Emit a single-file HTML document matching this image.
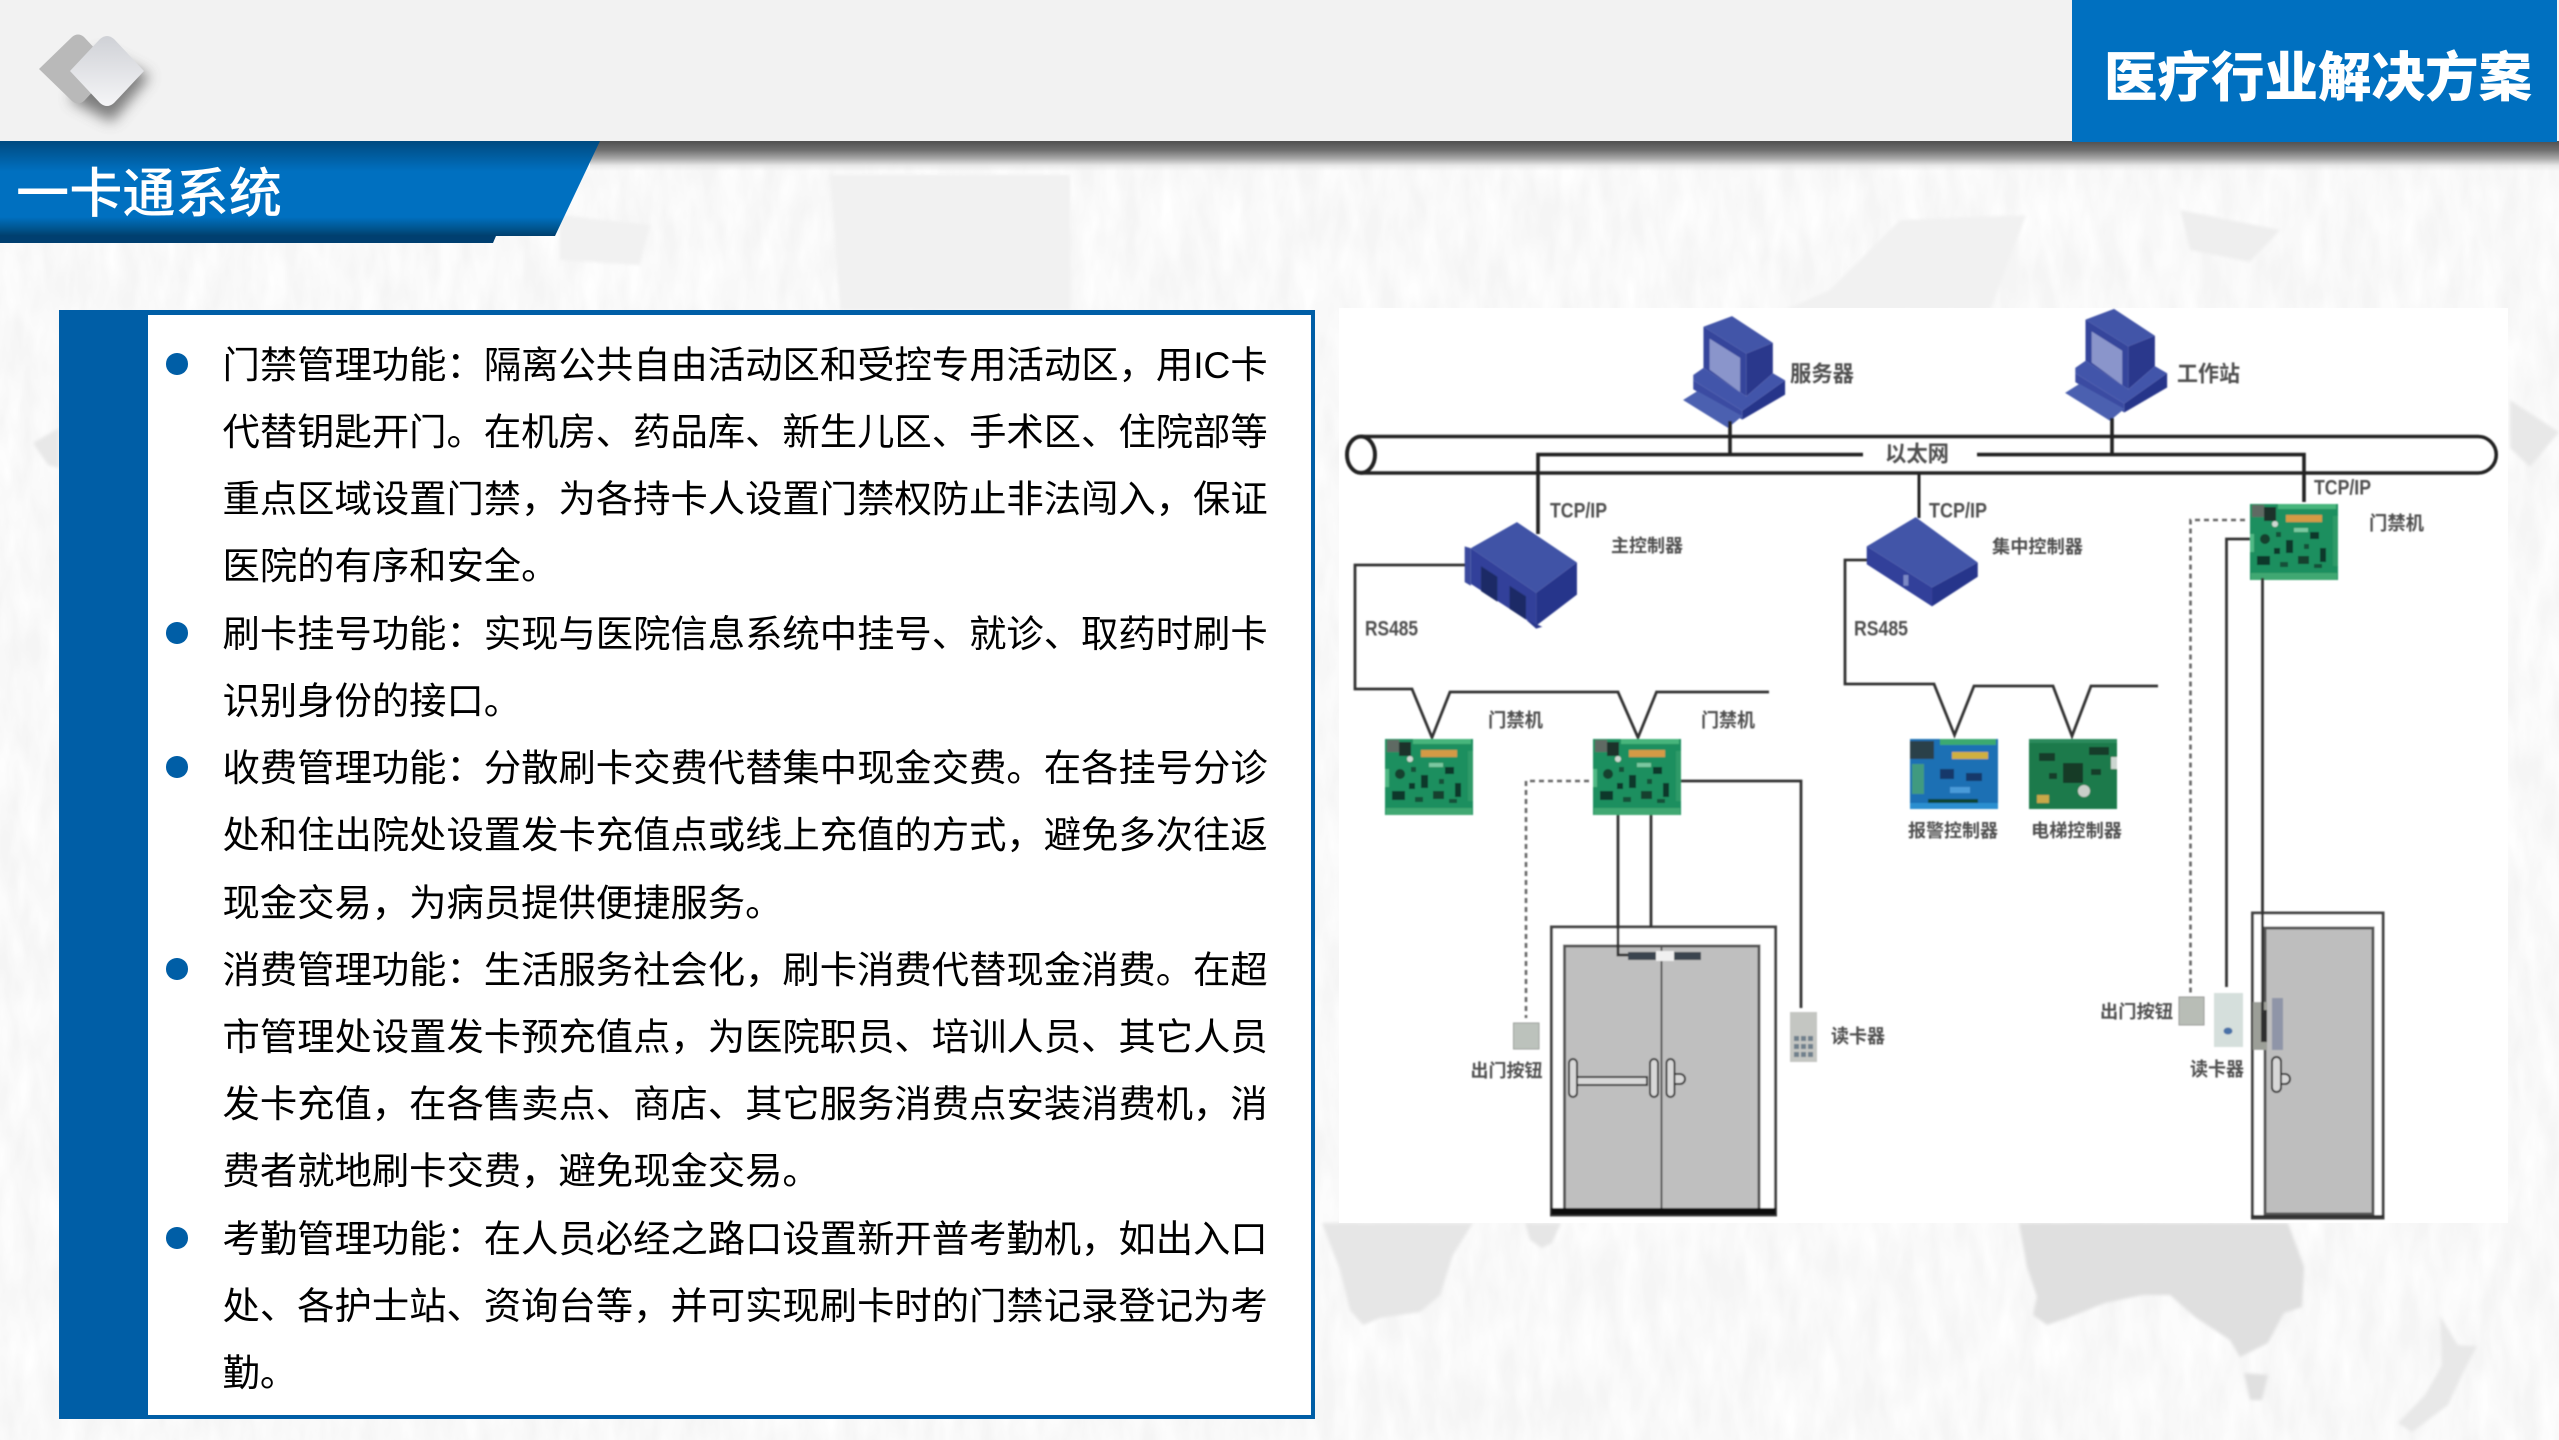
<!DOCTYPE html>
<html lang="zh-CN"><head><meta charset="utf-8"><title>一卡通系统</title>
<style>
html,body{margin:0;padding:0;background:#f5f5f5}
#p{position:relative;width:2559px;height:1440px;overflow:hidden;background:#f5f5f5;font-family:"Liberation Sans","Noto Sans CJK SC",sans-serif}
#p>*{position:absolute}
.l{left:222.5px;width:1045px;height:67px;line-height:67px;font-size:37.33px;color:#000;white-space:nowrap}
.j{text-align:justify;text-align-last:justify;white-space:normal;letter-spacing:-.2px}
.b{left:166px;width:21.5px;height:21.5px;border-radius:50%;background:#005ea6}
svg text{font-family:"Liberation Sans","Noto Sans CJK SC",sans-serif;fill:#505050;font-weight:700;dominant-baseline:central}
</style></head><body><div id="p">

<svg style="left:0;top:0" width="2559" height="1440" viewBox="0 0 2559 1440">
<defs>
<filter id="ns" x="0" y="0" width="100%" height="100%">
<feTurbulence type="fractalNoise" baseFrequency="0.05 0.016" numOctaves="3" seed="7"/>
<feColorMatrix type="matrix" values="0 0 0 0 1  0 0 0 0 1  0 0 0 0 1  1.6 0 0 0 -0.4"/>
</filter>
<filter id="sf" x="-5%" y="-5%" width="110%" height="110%"><feGaussianBlur stdDeviation="1.5"/></filter>
</defs>
<rect width="2559" height="1440" fill="#fff" filter="url(#ns)"/>
<g filter="url(#sf)">
<g fill="#f1f1f1">
<path d="M830 175H1070V310H840Z"/>
<path d="M1900 220L2026 215 1990 310H1784L1830 290Z"/>
<path d="M2180 210L2280 230 2250 262 2190 250Z" fill="#eeeeee"/>
<path d="M560 215L650 225 640 265 560 260Z"/>
</g>
<g fill="#e6e6e6">
<path d="M1322 1223H1473L1453 1255 1440 1295 1420 1312 1380 1318 1363 1325 1350 1310 1340 1270Z"/>
<path d="M1525 1223H1561L1552 1243 1542 1248 1530 1240Z"/>
<path d="M33 443L59 428V468L48 465Z" fill="#e8e8e8"/>
<path d="M2510 400L2559 432 2530 467 2510 448Z" fill="#e8e8e8"/>
<path d="M2440 1316L2458 1345 2477 1346 2462 1375 2448 1405 2412 1432 2398 1423 2425 1395 2442 1365Z" fill="#e8e8e8"/>
<path d="M2244 1373L2268 1375 2262 1400 2250 1400Z" fill="#e0e0e0"/>
</g>
<path d="M2019 1223H2288L2304 1267 2302 1307 2284 1313 2268 1343 2240 1357 2230 1340 2195 1317 2170 1295 2143 1295 2105 1303 2070 1317 2047 1325 2033 1315 2037 1297 2027 1267Z" fill="#dfdfdf"/>
</g>
</svg>

<div style="left:0;top:0;width:2559px;height:141px;background:#f2f2f2"></div>
<div style="left:590px;top:141px;width:1969px;height:30px;background:linear-gradient(#505050,#6f6f6f 30%,#a8a8a8 58%,rgba(225,225,225,.7) 82%,rgba(245,245,245,0))"></div>

<svg style="left:0;top:0" width="200" height="141" viewBox="0 0 200 141">
<defs>
<filter id="sh" x="-50%" y="-50%" width="200%" height="200%"><feGaussianBlur stdDeviation="7"/></filter>
<linearGradient id="dg" x1="0" y1="0" x2="0" y2="1"><stop offset="0" stop-color="#cfd1d6"/><stop offset="1" stop-color="#f5f5f7"/></linearGradient>
</defs>
<path d="M100 50L150 76 112 122 70 100Z" fill="#555" opacity=".75" filter="url(#sh)"/>
<path d="M39 69L72 37Q78 32 84 37L114 69 84 101Q78 106 72 101Z" fill="#b9b9b9"/>
<path d="M70 71L100 39Q107 33 114 39L144 71 114 103Q107 109 100 103Z" fill="url(#dg)"/>
</svg>

<div style="left:2072px;top:0;width:485px;height:142px;background:#0070c0"></div>
<div style="left:2104px;top:42px;font-size:53.5px;line-height:74px;font-weight:900;color:#fff;white-space:nowrap">医疗行业解决方案</div>

<svg style="left:0;top:141px" width="620" height="104" viewBox="0 0 620 104">
<defs><linearGradient id="tg" x1="0" y1="0" x2="0" y2="1">
<stop offset="0" stop-color="#004a80"/><stop offset=".22" stop-color="#0064ac"/><stop offset=".32" stop-color="#0070c0"/><stop offset=".8" stop-color="#0070c0"/><stop offset=".92" stop-color="#00558f"/><stop offset="1" stop-color="#003e6d"/></linearGradient></defs>
<path d="M0 95H496L493 102H0Z" fill="#003f70"/>
<path d="M0 0H600L555 95H0Z" fill="url(#tg)"/>
</svg>
<div style="left:16px;top:158px;font-size:53.2px;line-height:74px;font-weight:500;color:#fff;white-space:nowrap">一卡通系统</div>

<div style="left:59px;top:310px;width:1256px;height:1109px;background:#005ea6"></div>
<div style="left:148px;top:315px;width:1163px;height:1100px;background:#fff"></div>

<div class="b" style="top:353px"></div>
<div class="l j" style="top:331.5px">门禁管理功能：隔离公共自由活动区和受控专用活动区，用IC卡</div>
<div class="l j" style="top:398.5px">代替钥匙开门。在机房、药品库、新生儿区、手术区、住院部等</div>
<div class="l j" style="top:466px">重点区域设置门禁，为各持卡人设置门禁权防止非法闯入，保证</div>
<div class="l" style="top:533px">医院的有序和安全。</div>
<div class="b" style="top:622px"></div>
<div class="l j" style="top:600.5px">刷卡挂号功能：实现与医院信息系统中挂号、就诊、取药时刷卡</div>
<div class="l" style="top:667.5px">识别身份的接口。</div>
<div class="b" style="top:756px"></div>
<div class="l j" style="top:735px">收费管理功能：分散刷卡交费代替集中现金交费。在各挂号分诊</div>
<div class="l j" style="top:802px">处和住出院处设置发卡充值点或线上充值的方式，避免多次往返</div>
<div class="l" style="top:869.5px">现金交易，为病员提供便捷服务。</div>
<div class="b" style="top:958px"></div>
<div class="l j" style="top:936.5px">消费管理功能：生活服务社会化，刷卡消费代替现金消费。在超</div>
<div class="l j" style="top:1003.5px">市管理处设置发卡预充值点，为医院职员、培训人员、其它人员</div>
<div class="l j" style="top:1071px">发卡充值，在各售卖点、商店、其它服务消费点安装消费机，消</div>
<div class="l" style="top:1138px">费者就地刷卡交费，避免现金交易。</div>
<div class="b" style="top:1227px"></div>
<div class="l j" style="top:1205.5px">考勤管理功能：在人员必经之路口设置新开普考勤机，如出入口</div>
<div class="l j" style="top:1272.5px">处、各护士站、资询台等，并可实现刷卡时的门禁记录登记为考</div>
<div class="l" style="top:1340px">勤。</div>

<div style="left:1339px;top:308px;width:1169px;height:915px;background:#fff"></div>

<svg style="left:0;top:0" width="2559" height="1440" viewBox="0 0 2559 1440">
<defs>
<filter id="d" x="-2%" y="-2%" width="104%" height="104%"><feGaussianBlur stdDeviation="0.75"/></filter>
<g id="pc">
<path d="M915 75L985 45 1085 120 1020 150Z" fill="#4254a8"/>
<path d="M915 75L1020 150V270L915 190Z" fill="#34459b"/>
<path d="M930 108L1005 162V258L930 195Z" fill="#8a95cb"/>
<path d="M1020 150L1085 120V205L1020 270Z" fill="#2a398c"/>
<path d="M890 210L915 190 1020 270 1085 205 1115 225 1010 310 890 225Z" fill="#4355aa"/>
<path d="M890 225L1010 310V335L890 250Z" fill="#3a4ca2"/>
<path d="M1010 310L1115 225V265L1010 335Z" fill="#27358a"/>
<path d="M865 280L900 255 1010 325 975 358Z" fill="#4c60b0"/>
</g>
<g id="bd">
<rect x="0" y="0" width="88" height="76" fill="#1d8f5e"/>
<rect x="28" y="0" width="58" height="5" fill="#46b57c"/>
<rect x="1" y="69" width="86" height="7" fill="#3fa872"/>
<rect x="83" y="12" width="5" height="50" fill="#2f9a68"/>
<rect x="0" y="30" width="4" height="18" fill="#4fb884"/>
<rect x="2" y="1" width="12" height="12" fill="#5e6a64"/>
<rect x="14" y="3" width="12" height="14" fill="#1e3229"/>
<circle cx="25" cy="20" r="3" fill="#cfd8d2"/>
<rect x="36" y="11" width="36" height="7" fill="#d49a44"/>
<circle cx="15" cy="35" r="5" fill="#12402f"/>
<rect x="7" y="52" width="13" height="9" fill="#10382a"/>
<rect x="36" y="36" width="7" height="13" fill="#10382a"/>
<rect x="60" y="28" width="9" height="7" fill="#10382a"/>
<rect x="48" y="52" width="11" height="8" fill="#12402f"/>
<rect x="70" y="44" width="6" height="14" fill="#10382a"/>
<rect x="24" y="44" width="6" height="6" fill="#10382a"/>
<rect x="44" y="24" width="14" height="4" fill="#7cc8a0"/>
<rect x="26" y="28" width="5" height="5" fill="#145038"/>
<rect x="54" y="40" width="5" height="5" fill="#145038"/>
<rect x="30" y="58" width="8" height="5" fill="#145038"/>
<rect x="64" y="60" width="8" height="4" fill="#145038"/>
</g>
</defs>

<g filter="url(#d)">
<!-- devices -->
<g transform="translate(1330,300) scale(.40816,.35714)">
<use href="#pc"/>
<use href="#pc" x="936" y="-20"/>
<!-- main controller -->
<path d="M345 695L458 622 605 735 505 820Z" fill="#4052a6"/>
<path d="M345 695L505 820V912L345 795Z" fill="#30409a"/>
<path d="M505 820L605 735V825L505 912Z" fill="#27358b"/>
<path d="M330 690L345 695V800L330 790Z" fill="#3a4a9e"/>
<path d="M370 745L410 775V845L370 815Z" fill="#1f2a66"/>
<path d="M440 800L480 830V895L440 865Z" fill="#1f2a66"/>
<path d="M480 895L520 915 505 920Z" fill="#2a388c"/>
<!-- central controller -->
<path d="M1315 690L1435 608 1587 735 1475 805Z" fill="#4254a8"/>
<path d="M1315 690L1475 805V858L1315 740Z" fill="#30409a"/>
<path d="M1475 805L1587 735V775L1475 858Z" fill="#27358b"/>
<rect x="1405" y="770" width="12" height="30" fill="#7b88c5"/>
</g>

<!-- bus -->
<g fill="none" stroke="#222" stroke-width="3.6">
<path d="M1361 436.5H2478A18 18 0 0 1 2478 473H1361"/>
<ellipse cx="1361" cy="454.7" rx="14" ry="18.2" stroke-width="4"/>
<path d="M1863 454.6H1538V534"/>
<path d="M1977 454.6H2304V502"/>
<path d="M1730 421V454.6"/>
<path d="M2112 418V454.6"/>
<path d="M1919 473V518" stroke-width="3"/>
</g>

<!-- RS485 wires -->
<g fill="none" stroke="#333" stroke-width="2.8">
<path d="M1465 565H1355V689H1412L1432 737.5 1450 692H1618L1638 737.5 1656.5 692H1769"/>
<path d="M1867 560H1845V684H1934L1954.5 735 1974 686H2053L2072 736 2091 686H2158"/>
</g>

<!-- boards -->
<use href="#bd" x="1385" y="739"/>
<use href="#bd" x="1593" y="739"/>
<use href="#bd" x="2250" y="504"/>
<g transform="translate(1910,739)">
<rect width="88" height="70" fill="#1c6fb4"/>
<rect x="30" width="56" height="6" fill="#3aa96f"/>
<rect x="0" y="64" width="88" height="6" fill="#2a8fd0"/>
<rect x="18" y="60" width="50" height="4" fill="#143"/>
<rect x="0" y="2" width="24" height="18" fill="#2a4048"/>
<rect x="42" y="13" width="36" height="7" fill="#d0b040"/>
<rect x="2" y="25" width="12" height="30" fill="#3f9a80"/>
<rect x="30" y="30" width="14" height="10" fill="#12386a"/>
<rect x="56" y="34" width="16" height="8" fill="#12386a"/>
<rect x="40" y="48" width="20" height="6" fill="#4a9ad8"/>
</g>
<g transform="translate(2029,739)">
<rect width="88" height="70" fill="#1c7a4c"/>
<rect x="0" y="0" width="88" height="4" fill="#2a8a5c"/>
<rect x="34" y="24" width="20" height="20" fill="#123a28"/>
<circle cx="55" cy="52" r="6" fill="#c9cfc9"/>
<rect x="8" y="56" width="12" height="8" fill="#c8a84a"/>
<rect x="82" y="18" width="6" height="12" fill="#ccd6d0"/>
<rect x="60" y="8" width="20" height="8" fill="#143d2a"/>
<rect x="10" y="14" width="16" height="8" fill="#143d2a"/>
<rect x="20" y="34" width="8" height="6" fill="#143d2a"/>
<rect x="62" y="30" width="10" height="6" fill="#143d2a"/>
</g>

<!-- left door -->
<rect x="1551.5" y="927" width="224" height="288" fill="#fff" stroke="#444" stroke-width="3"/>
<rect x="1564.5" y="946" width="194.5" height="264" fill="#bfbfbf" stroke="#555" stroke-width="3"/>
<path d="M1661.5 946V1210" stroke="#555" stroke-width="2"/>
<rect x="1551" y="1208" width="225" height="7" fill="#111"/>
<rect x="1628" y="952" width="28" height="8" fill="#3a4450"/>
<rect x="1674" y="952" width="27" height="8" fill="#3a4450"/>
<rect x="1656" y="951" width="18" height="10" fill="#f0f0f0"/>
<g fill="#d8d8d8" stroke="#333" stroke-width="2">
<rect x="1577" y="1077" width="70" height="8"/>
<rect x="1569" y="1059" width="8" height="38" rx="4"/>
<rect x="1650" y="1059" width="8" height="38" rx="4"/>
<path d="M1674 1074H1680A5 5 0 0 1 1680 1084H1674Z"/>
<rect x="1666.5" y="1059" width="8" height="38" rx="4"/>
</g>
<rect x="1513.5" y="1023" width="25.5" height="26" fill="#bcc2bc" stroke="#9a9f9a"/>
<rect x="1790" y="1012" width="27" height="50" fill="#c4c6c2"/>
<g fill="#70808c">
<rect x="1794" y="1036" width="5" height="5"/><rect x="1801" y="1036" width="5" height="5"/><rect x="1808" y="1036" width="5" height="5"/>
<rect x="1794" y="1044" width="5" height="5"/><rect x="1801" y="1044" width="5" height="5"/><rect x="1808" y="1044" width="5" height="5"/>
<rect x="1794" y="1052" width="5" height="5"/><rect x="1801" y="1052" width="5" height="5"/><rect x="1808" y="1052" width="5" height="5"/>
</g>

<!-- right door -->
<rect x="2252.5" y="913" width="130.5" height="305" fill="#fff" stroke="#444" stroke-width="3"/>
<rect x="2265" y="928" width="108" height="286" fill="#bebebe" stroke="#555" stroke-width="3"/>
<path d="M2251 1216.5H2384" stroke="#333" stroke-width="3"/>
<rect x="2253" y="1002" width="14" height="48" fill="#9c9f98"/>
<rect x="2261" y="1010" width="6" height="32" fill="#2e2e2e"/>
<rect x="2272" y="998" width="11" height="52" fill="#8f95a8"/>
<path d="M2274 1074H2285A5 5 0 0 1 2285 1084H2274Z" fill="#d8d8d8" stroke="#333" stroke-width="2"/>
<rect x="2272" y="1057" width="9" height="35" rx="4.5" fill="#d8d8d8" stroke="#333" stroke-width="2"/>
<rect x="2179" y="997" width="25" height="28" fill="#b8bdb6" stroke="#999"/>
<rect x="2214" y="993" width="29" height="54" fill="#d5dfdc"/>
<ellipse cx="2228" cy="1031" rx="4.5" ry="3.5" fill="#4a72a8"/>

<!-- door wires, above the doors -->
<g fill="none" stroke="#333" stroke-width="2.8">
<path d="M1681 781H1801V1008"/>
<path d="M1618 815V955H1628"/>
<path d="M1651 815V927"/>
<path d="M2250 539H2226.5V987"/>
<path d="M2262.5 578V1013"/>
</g>
<g fill="none" stroke="#666" stroke-width="2.6" stroke-dasharray="5 4">
<path d="M1589 781H1526V1018"/>
<path d="M2245 520H2190.5V995"/>
</g>

<!-- labels -->
<text x="1790" y="374" font-size="22" textLength="64" lengthAdjust="spacingAndGlyphs">服务器</text>
<text x="2177" y="374" font-size="22" textLength="63" lengthAdjust="spacingAndGlyphs">工作站</text>
<text x="1885" y="454" font-size="22" textLength="64" lengthAdjust="spacingAndGlyphs">以太网</text>
<text x="1550" y="511" font-size="21" textLength="57" lengthAdjust="spacingAndGlyphs">TCP/IP</text>
<text x="1929" y="511" font-size="21" textLength="58" lengthAdjust="spacingAndGlyphs">TCP/IP</text>
<text x="2314" y="488" font-size="21" textLength="57" lengthAdjust="spacingAndGlyphs">TCP/IP</text>
<text x="1611" y="546" font-size="18" textLength="72" lengthAdjust="spacingAndGlyphs">主控制器</text>
<text x="1992" y="547" font-size="18" textLength="91" lengthAdjust="spacingAndGlyphs">集中控制器</text>
<text x="2369" y="524" font-size="19" textLength="55" lengthAdjust="spacingAndGlyphs">门禁机</text>
<text x="1365" y="629" font-size="21" textLength="53" lengthAdjust="spacingAndGlyphs">RS485</text>
<text x="1854" y="629" font-size="21" textLength="54" lengthAdjust="spacingAndGlyphs">RS485</text>
<text x="1488" y="721" font-size="19" textLength="55" lengthAdjust="spacingAndGlyphs">门禁机</text>
<text x="1701" y="721" font-size="19" textLength="54" lengthAdjust="spacingAndGlyphs">门禁机</text>
<text x="1908" y="831" font-size="18" textLength="90" lengthAdjust="spacingAndGlyphs">报警控制器</text>
<text x="2031" y="831" font-size="18" textLength="91" lengthAdjust="spacingAndGlyphs">电梯控制器</text>
<text x="1470.5" y="1071" font-size="18" textLength="72" lengthAdjust="spacingAndGlyphs">出门按钮</text>
<text x="1831" y="1037" font-size="19" textLength="54" lengthAdjust="spacingAndGlyphs">读卡器</text>
<text x="2100" y="1012" font-size="18" textLength="73" lengthAdjust="spacingAndGlyphs">出门按钮</text>
<text x="2190" y="1070" font-size="19" textLength="54" lengthAdjust="spacingAndGlyphs">读卡器</text>
</g>
</svg>

</div></body></html>
